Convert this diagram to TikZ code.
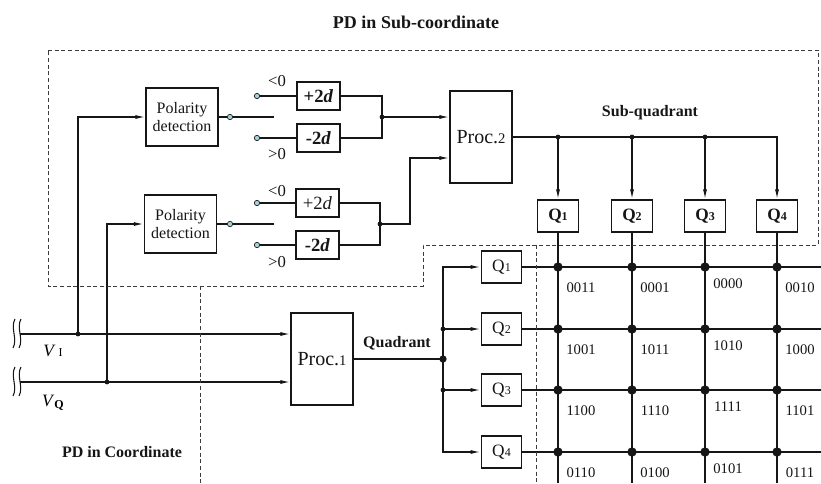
\documentclass[tikz,border=0pt]{standalone}
\usepackage{fontspec}
\setmainfont{Liberation Serif}
\usepackage{tikz}
\usetikzlibrary{arrows.meta,backgrounds,calc}
\definecolor{PDInk}{HTML}{161616}
\definecolor{PDDash}{HTML}{3C3C3C}
\definecolor{PDContact}{HTML}{A9D3DC}

\begin{document}
\begin{tikzpicture}[
  x=0.75pt,
  y=-0.75pt,
  block/.style={
    draw=PDInk,
    line width=0.8pt,
    fill=white,
    inner sep=0pt,
    align=center,
    text=PDInk
  },
  polbox/.style={
    block,
    minimum width=54pt,
    minimum height=43.5pt,
    font=\fontsize{12}{14}\selectfont
  },
  addbox/.style={
    block,
    minimum width=32.25pt,
    minimum height=21pt,
    font=\fontsize{14}{16}\selectfont
  },
  procbox/.style={
    block,
    minimum width=46.5pt,
    minimum height=69pt,
    font=\fontsize{15}{17}\selectfont
  },
  qbox/.style={
    block,
    minimum width=30.5pt,
    minimum height=24pt,
    font=\fontsize{13}{15}\selectfont
  },
  contact/.style={
    circle,
    draw=PDInk,
    line width=0.5pt,
    fill=PDContact,
    inner sep=0pt,
    minimum size=4pt
  },
  smalldot/.style={circle, fill=PDInk, inner sep=0pt, minimum size=3.6pt},
  bigdot/.style={circle, fill=PDInk, inner sep=0pt, minimum size=7pt},
  heading/.style={font=\fontsize{12}{14}\selectfont\bfseries, text=PDInk},
  cmp/.style={font=\fontsize{12.5}{14}\selectfont, text=PDInk, inner sep=0pt},
  cell/.style={font=\fontsize{11}{13}\selectfont, text=PDInk, inner sep=0pt},
  wire/.style={draw=PDInk, line width=1pt},
  arr/.style={wire, -{Latex[length=7.5pt,width=3pt]}},
  region/.style={draw=PDDash, line width=0.6pt, densely dashed},
]
\useasboundingbox (0,0) rectangle (821,483);

% labels of the two parts
\node[heading, font=\fontsize{13.5}{16}\selectfont\bfseries] (sub-title) at (416,22) {PD in Sub-coordinate};
\node[heading] (main-title) at (122,452) {PD in Coordinate};

% dashed borders
\draw[region] (48,50) -- (818,50) -- (818,245) -- (423,245) -- (423,286) -- (48,286) -- cycle;
\draw[region] (200,286) -- (200,483);
\draw[region] (536,245) -- (536,483);

% polarity detection (I and Q)
\node[polbox] (pol-i) at (182,117) {Polarity\\detection};
\node[polbox] (pol-q) at (180.5,224) {Polarity\\detection};

\node[contact] (out-i) at (230,117) {};
\node[contact] (lt-i) at (257,96) {};
\node[contact] (gt-i) at (257,138) {};
\coordinate (arm-i) at (274,117);
\node[cmp] (lt-i-label) at (277,81) {<0};
\node[cmp] (gt-i-label) at (277,154) {>0};

\node[contact] (out-q) at (230,224) {};
\node[contact] (lt-q) at (257,203) {};
\node[contact] (gt-q) at (257,245) {};
\coordinate (arm-q) at (274,224);
\node[cmp] (lt-q-label) at (277,191) {<0};
\node[cmp] (gt-q-label) at (277,262) {>0};

\node[addbox] (plus-i) at (318.5,96) {\textbf{+2\textit{d}}};
\node[addbox] (minus-i) at (318.5,138) {\textbf{-2\textit{d}}};
\node[addbox] (plus-q) at (317.5,203) {+2\textit{d}};
\node[addbox] (minus-q) at (317.5,245) {\textbf{-2\textit{d}}};

\coordinate (join-i) at (382,117);
\coordinate (join-q) at (380,224);
\coordinate (bend-q) at (410,158);

% processors
\node[procbox] (proc2) at (481,137) {Proc.{\fontsize{11}{13}\selectfont 2}};
\node[procbox] (proc1) at (322,359) {Proc.{\fontsize{11}{13}\selectfont 1}};
\node[heading] (sub-quadrant) at (650,113) {Sub-quadrant};
\node[heading] (quadrant) at (397,343) {Quadrant};

% sub-quadrant selectors
\foreach \x [count=\i] in {558,632,705,777}
  \node[qbox, font=\fontsize{13}{15}\selectfont\bfseries] (sq-\i) at (\x,216) {Q{\fontsize{9}{10}\selectfont\bfseries\i}};

% quadrant selectors
\foreach \y [count=\j] in {267,329,390,452}
  \node[qbox] (q-\j) at (501.5,\y) {Q{\fontsize{9}{10}\selectfont\j}};

% inputs
\coordinate (vi-start) at (20,334);
\coordinate (vq-start) at (20,382);
\coordinate (tap-i) at (78,334);
\coordinate (tap-q) at (107,382);
\node[font=\fontsize{13}{15}\selectfont] (vi-label) at (53,351) {\textit{V}\,{\fontsize{9}{10}\selectfont I}};
\node[font=\fontsize{13}{15}\selectfont] (vq-label) at (53,403) {\textit{V}\raisebox{-1.5pt}{\fontsize{9}{10}\selectfont\bfseries Q}};
\coordinate (fan) at (443,359);

% grid ends
\foreach \x [count=\i] in {558,632,705,777}
  \coordinate (col-\i) at (\x,483);
\foreach \y [count=\j] in {267,329,390,452}
  \coordinate (row-\j) at (821,\y);

\begin{scope}[on background layer]
  % line breaks on the inputs
  \foreach \y in {334,382}
    \foreach \x in {13,19}
      \draw[wire, line width=0.8pt] (\x+2,\y-15) .. controls (\x-3,\y-6) and (\x+5,\y+5) .. (\x,\y+14);

  \draw[arr] (vi-start) -- (vi-start -| proc1.west);
  \draw[arr] (vq-start) -- (vq-start -| proc1.west);
  \draw[arr] (tap-i) |- (pol-i.west);
  \draw[arr] (tap-q) |- (pol-q.west);

  \draw[wire] (pol-i.east) -- (out-i) -- (arm-i);
  \draw[wire] (lt-i) -- (plus-i.west);
  \draw[wire] (gt-i) -- (minus-i.west);
  \draw[wire] (plus-i.east) -| (join-i) |- (minus-i.east);
  \draw[arr] (join-i) -- (join-i -| proc2.west);

  \draw[wire] (pol-q.east) -- (out-q) -- (arm-q);
  \draw[wire] (lt-q) -- (plus-q.west);
  \draw[wire] (gt-q) -- (minus-q.west);
  \draw[wire] (plus-q.east) -| (join-q) |- (minus-q.east);
  \draw[arr] (join-q) -| (bend-q) -- (bend-q -| proc2.west);

  \draw[arr] (proc2.east) -| (sq-4.north);
  \foreach \i in {1,2,3}
    \draw[arr] (sq-\i.north |- proc2.east) -- (sq-\i.north);

  \draw[wire] (proc1.east) -- (fan);
  \draw[arr] (fan) |- (q-1.west);
  \draw[arr] (fan) |- (q-4.west);
  \draw[arr] (q-2.west -| fan) -- (q-2.west);
  \draw[arr] (q-3.west -| fan) -- (q-3.west);

  \foreach \i in {1,...,4}
    \draw[wire] (sq-\i.south) -- (col-\i);
  \foreach \j in {1,...,4}
    \draw[wire] (q-\j.east) -- (row-\j);
\end{scope}

% junction dots
\node[smalldot] at (tap-i) {};
\node[smalldot] at (tap-q) {};
\node[smalldot] at (join-i) {};
\node[smalldot] at (join-q) {};
\foreach \i in {1,2,3}
  \node[smalldot] at (sq-\i.north |- proc2.east) {};
\node[bigdot, minimum size=5.5pt] at (fan) {};
\node[smalldot] at (q-2.west -| fan) {};
\node[smalldot] at (q-3.west -| fan) {};
\foreach \i in {1,...,4}
  \foreach \j in {1,...,4}
    \node[bigdot] (dot-\i-\j) at (col-\i |- row-\j) {};

% codes of the 16 sub-quadrants
\foreach \j/\a/\b/\c/\d in {1/0011/0001/0000/0010, 2/1001/1011/1010/1000, 3/1100/1110/1111/1101, 4/0110/0100/0101/0111} {
  \node[cell] at ($(dot-1-\j)+(23,21)$) {\a};
  \node[cell] at ($(dot-2-\j)+(23,21)$) {\b};
  \node[cell] at ($(dot-3-\j)+(23,17)$) {\c};
  \node[cell] at ($(dot-4-\j)+(23,21)$) {\d};
}
\end{tikzpicture}
\end{document}
